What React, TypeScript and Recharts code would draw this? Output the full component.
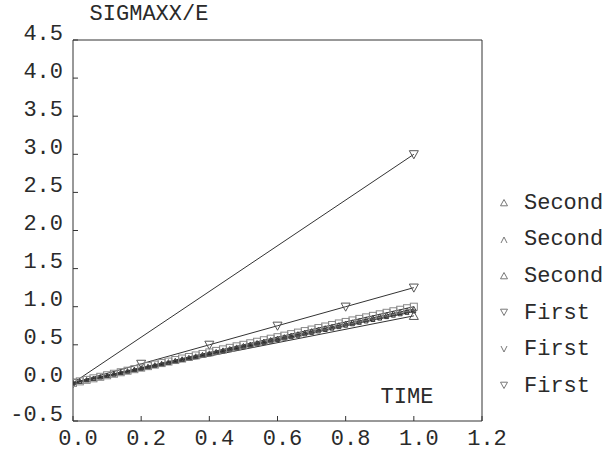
import React from "react";
import { LineChart, Line, XAxis, YAxis, Legend } from "recharts";

// time samples
const TIME_FINE = [
  0, 0.02, 0.04, 0.06, 0.08, 0.1, 0.12, 0.14, 0.16, 0.18, 0.2, 0.22, 0.24, 0.26, 0.28, 0.3, 0.32, 0.34,
  0.36, 0.38, 0.4, 0.42, 0.44, 0.46, 0.48, 0.5, 0.52, 0.54, 0.56, 0.58, 0.6, 0.62, 0.64, 0.66, 0.68,
  0.7, 0.72, 0.74, 0.76, 0.78, 0.8, 0.82, 0.84, 0.86, 0.88, 0.9, 0.92, 0.94, 0.96, 0.98, 1.0,
];
const TIME_COARSE = [0, 0.2, 0.4, 0.6, 0.8, 1.0];
const TIME_ENDS = [0, 1.0];

// SIGMAXX/E values
const secondA = [
  0, 0.019, 0.039, 0.058, 0.078, 0.097, 0.116, 0.136, 0.155, 0.175, 0.194, 0.213, 0.233, 0.252, 0.272,
  0.291, 0.31, 0.33, 0.349, 0.369, 0.388, 0.407, 0.427, 0.446, 0.466, 0.485, 0.504, 0.524, 0.543, 0.563,
  0.582, 0.601, 0.621, 0.64, 0.66, 0.679, 0.698, 0.718, 0.737, 0.757, 0.776, 0.795, 0.815, 0.834, 0.854,
  0.873, 0.892, 0.912, 0.931, 0.951, 0.97,
];
const secondB = [
  0, 0.019, 0.038, 0.056, 0.075, 0.094, 0.113, 0.132, 0.15, 0.169, 0.188, 0.207, 0.226, 0.244, 0.263,
  0.282, 0.301, 0.32, 0.338, 0.357, 0.376, 0.395, 0.414, 0.432, 0.451, 0.47, 0.489, 0.508, 0.526, 0.545,
  0.564, 0.583, 0.602, 0.62, 0.639, 0.658, 0.677, 0.696, 0.714, 0.733, 0.752, 0.771, 0.79, 0.808, 0.827,
  0.846, 0.865, 0.884, 0.902, 0.921, 0.94,
];
const secondC = [0, 0.88];
const firstA = [0, 3.0];
const firstB = [0, 0.25, 0.5, 0.75, 1.0, 1.25];
const firstC = [
  0, 0.02, 0.04, 0.06, 0.08, 0.1, 0.12, 0.14, 0.16, 0.18, 0.2, 0.22, 0.24, 0.26, 0.28, 0.3, 0.32, 0.34,
  0.36, 0.38, 0.4, 0.42, 0.44, 0.46, 0.48, 0.5, 0.52, 0.54, 0.56, 0.58, 0.6, 0.62, 0.64, 0.66, 0.68,
  0.7, 0.72, 0.74, 0.76, 0.78, 0.8, 0.82, 0.84, 0.86, 0.88, 0.9, 0.92, 0.94, 0.96, 0.98, 1.0,
];

const X_TICKS = [0, 0.2, 0.4, 0.6, 0.8, 1.0, 1.2];
const Y_TICKS = [-0.5, 0, 0.5, 1.0, 1.5, 2.0, 2.5, 3.0, 3.5, 4.0, 4.5];

const LEGEND_NAMES = ["Second", "Second", "Second", "First", "First", "First"];
const LEGEND_MARKS = ["up", "caret", "up", "down", "vee", "down"];

const FONT = "'Liberation Mono', 'DejaVu Sans Mono', monospace";
const FS = 22;
const INK = "#333";
const TXT = "#2a2a2a";

const toRows = (t: number[], v: number[]) => t.map((time, i) => ({ time, v: v[i] }));

const triUp = (x: number, y: number, s: number) =>
  `M${x},${y - s} L${x + s},${y + s * 0.8} L${x - s},${y + s * 0.8} Z`;
const triDown = (x: number, y: number, s: number) =>
  `M${x},${y + s} L${x + s},${y - s * 0.8} L${x - s},${y - s * 0.8} Z`;

function makeDot(kind: string, size: number, color: string, onlyLast = false) {
  return (p: any) => {
    const { cx, cy, index, points } = p;
    const key = `d-${kind}-${index}`;
    if (cx == null || cy == null) return <g key={key} />;
    if (onlyLast && points && index !== points.length - 1) return <g key={key} />;
    if (kind === "square")
      return <rect key={key} x={cx - size} y={cy - size} width={size * 2} height={size * 2} fill="none" stroke={color} strokeWidth={1} />;
    if (kind === "down")
      return <path key={key} d={triDown(cx, cy, size)} fill="none" stroke={color} strokeWidth={1} />;
    return <path key={key} d={triUp(cx, cy, size)} fill="none" stroke={color} strokeWidth={1} />;
  };
}

const LeftTick = (p: any) => (
  <g>
    <line x1={p.x} x2={p.x + 5} y1={p.y} y2={p.y} stroke={INK} />
    <text x={p.x - 10} y={p.y - 6} textAnchor="end" dominantBaseline="central" fontFamily={FONT} fontSize={FS} fill={TXT}>
      {Number(p.payload.value).toFixed(1)}
    </text>
  </g>
);
const BottomTick = (p: any) => (
  <g>
    <line x1={p.x} x2={p.x} y1={p.y} y2={p.y - 5} stroke={INK} />
    <text x={p.x + 5} y={p.y + 18} textAnchor="middle" dominantBaseline="central" fontFamily={FONT} fontSize={FS} fill={TXT}>
      {Number(p.payload.value).toFixed(1)}
    </text>
  </g>
);
const TopTick = (p: any) => <line x1={p.x} x2={p.x} y1={p.y} y2={p.y + 5} stroke={INK} />;
const RightTick = (p: any) => <line x1={p.x} x2={p.x - 5} y1={p.y} y2={p.y} stroke={INK} />;

const TitleLabel = () => (
  <text x={149} y={14} textAnchor="middle" dominantBaseline="central" fontFamily={FONT} fontSize={FS} fill={TXT}>
    SIGMAXX/E
  </text>
);
const TimeLabel = () => (
  <text x={407} y={397} textAnchor="middle" dominantBaseline="central" fontFamily={FONT} fontSize={FS} fill={TXT}>
    TIME
  </text>
);

function LegendMark({ kind }: { kind: string }) {
  let d = triUp(6, 7, 3.5);
  if (kind === "down") d = triDown(6, 6, 3.5);
  if (kind === "caret") d = "M3,10 L6,4 L9,10";
  if (kind === "vee") d = "M3,3 L6,9 L9,3";
  return (
    <svg width={12} height={14} style={{ marginRight: 14 }}>
      <path d={d} fill="none" stroke="#777" strokeWidth={1} />
    </svg>
  );
}

const renderLegend = () => (
  <div style={{ fontFamily: FONT, fontSize: FS, color: TXT }}>
    {LEGEND_NAMES.map((n, i) => (
      <div key={i} style={{ height: 36.6, display: "flex", alignItems: "center" }}>
        <LegendMark kind={LEGEND_MARKS[i]} />
        <span>{n}</span>
      </div>
    ))}
  </div>
);

export default function App() {
  return (
    <div style={{ position: "absolute", left: 0, top: 0, width: 611, height: 456, background: "#fff" }}>
      <LineChart width={611} height={456} margin={{ top: 39, right: 128, bottom: 0, left: 0 }}>
        <XAxis
          xAxisId="b"
          type="number"
          dataKey="time"
          domain={[0, 1.2]}
          ticks={X_TICKS}
          allowDataOverflow
          height={35}
          tickSize={0}
          tickMargin={0}
          tickLine={false}
          tick={<BottomTick />}
          axisLine={{ stroke: INK }}
          label={<TimeLabel />}
        />
        <XAxis
          xAxisId="t"
          orientation="top"
          type="number"
          dataKey="time"
          domain={[0, 1.2]}
          ticks={X_TICKS}
          height={1}
          tickSize={0}
          tickMargin={0}
          tickLine={false}
          tick={<TopTick />}
          axisLine={{ stroke: INK }}
        />
        <YAxis
          yAxisId="l"
          type="number"
          domain={[-0.5, 4.5]}
          ticks={Y_TICKS}
          allowDataOverflow
          width={73}
          tickSize={0}
          tickMargin={0}
          tickLine={false}
          tick={<LeftTick />}
          axisLine={{ stroke: INK }}
          label={<TitleLabel />}
        />
        <YAxis
          yAxisId="r"
          orientation="right"
          type="number"
          domain={[-0.5, 4.5]}
          ticks={Y_TICKS}
          width={1}
          tickSize={0}
          tickMargin={0}
          tickLine={false}
          tick={<RightTick />}
          axisLine={{ stroke: INK }}
        />
        <Legend
          layout="vertical"
          align="center"
          verticalAlign="middle"
          wrapperStyle={{ left: 498, top: 185, width: 113 }}
          content={renderLegend}
        />
        <Line xAxisId="b" yAxisId="l" data={toRows(TIME_ENDS, firstA)} dataKey="v" name="First" stroke={INK} strokeWidth={1} dot={makeDot("down", 4.5, "#555")} isAnimationActive={false} />
        <Line xAxisId="b" yAxisId="l" data={toRows(TIME_COARSE, firstB)} dataKey="v" name="First" stroke={INK} strokeWidth={1} dot={makeDot("down", 4.5, "#555")} isAnimationActive={false} />
        <Line xAxisId="b" yAxisId="l" data={toRows(TIME_ENDS, secondC)} dataKey="v" name="Second" stroke={INK} strokeWidth={1} dot={makeDot("up", 4.5, "#555", true)} isAnimationActive={false} />
        <Line xAxisId="b" yAxisId="l" data={toRows(TIME_FINE, secondB)} dataKey="v" name="Second" stroke="#222" strokeWidth={1.5} dot={makeDot("up", 2, "#333")} isAnimationActive={false} />
        <Line xAxisId="b" yAxisId="l" data={toRows(TIME_FINE, firstC)} dataKey="v" name="First" stroke={INK} strokeWidth={1} dot={makeDot("square", 3.5, "#888")} isAnimationActive={false} />
        <Line xAxisId="b" yAxisId="l" data={toRows(TIME_FINE, secondA)} dataKey="v" name="Second" stroke={INK} strokeWidth={1} dot={makeDot("up", 2.5, "#444")} isAnimationActive={false} />
      </LineChart>
    </div>
  );
}
